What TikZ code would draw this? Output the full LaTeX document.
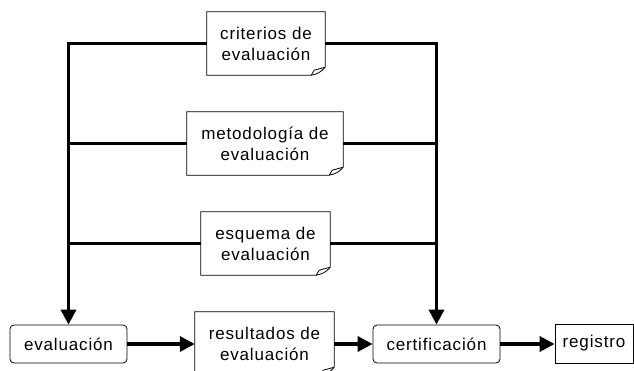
\documentclass[tikz,border=0pt]{standalone}
\usepackage{fontspec}
\setmainfont[LetterSpace=5]{Liberation Sans}
\usetikzlibrary{arrows.meta, positioning, calc}

\begin{document}
\begin{tikzpicture}[
    x=1pt, y=-1pt,
    font=\fontsize{17}{21}\selectfont,
    doc/.style={rectangle, align=center, inner sep=0pt, minimum height=63pt},
    proc/.style={rectangle, draw, rounded corners=4pt, line width=0.8pt, align=center, inner sep=0pt, minimum height=38pt},
    store/.style={rectangle, draw, line width=0.8pt, align=center, inner sep=0pt, minimum height=39pt},
    feed/.style={line width=3.5pt},
    flow/.style={line width=3.5pt, -{Triangle[length=15pt,width=15pt]}}
]
\useasboundingbox (0,0) rectangle (634,370);

\node[doc, minimum width=118pt] (crit) at (266,43.5) {criterios de\\evaluación};
\node[doc, minimum width=156pt] (metod) at (265,143.5) {metodología de\\evaluación};
\node[doc, minimum width=129pt] (esq) at (265.5,243.5) {esquema de\\evaluación};
\node[proc, minimum width=117pt] (eval) at (68.5,344) {evaluación};
\node[doc, minimum width=139pt] (res) at (264.5,343.5) {resultados de\\evaluación};
\node[proc, minimum width=127pt] (cert) at (436.5,344) {certificación};
\node[store, minimum width=78pt] (reg) at (594,343.5) {registro};

% document outlines with folded corner
\foreach \n in {crit,metod,esq,res} {
  \draw[line width=0.8pt] ([yshift=8pt]\n.south east) -- (\n.north east) -- (\n.north west) -- (\n.south west) -- ([xshift=-14pt]\n.south east) to[bend right=20] ([yshift=8pt]\n.south east);
  \draw[line width=0.8pt] ([xshift=-14pt]\n.south east) -- ([xshift=-11pt,yshift=5pt]\n.south east) -- ([yshift=8pt]\n.south east);
}

\draw[flow] (crit.west) -| (eval.north);
\draw[flow] (crit.east) -| (cert.north);
\draw[feed] (metod.west) -- (metod.west -| eval.north);
\draw[feed] (metod.east) -- (metod.east -| cert.north);
\draw[feed] (esq.west) -- (esq.west -| eval.north);
\draw[feed] (esq.east) -- (esq.east -| cert.north);

\draw[flow] (eval.east) -- (eval.east -| res.west);
\draw[flow] (res.east |- cert.west) -- (cert.west);
\draw[flow] (cert.east) -- (cert.east -| reg.west);

\end{tikzpicture}
\end{document}
